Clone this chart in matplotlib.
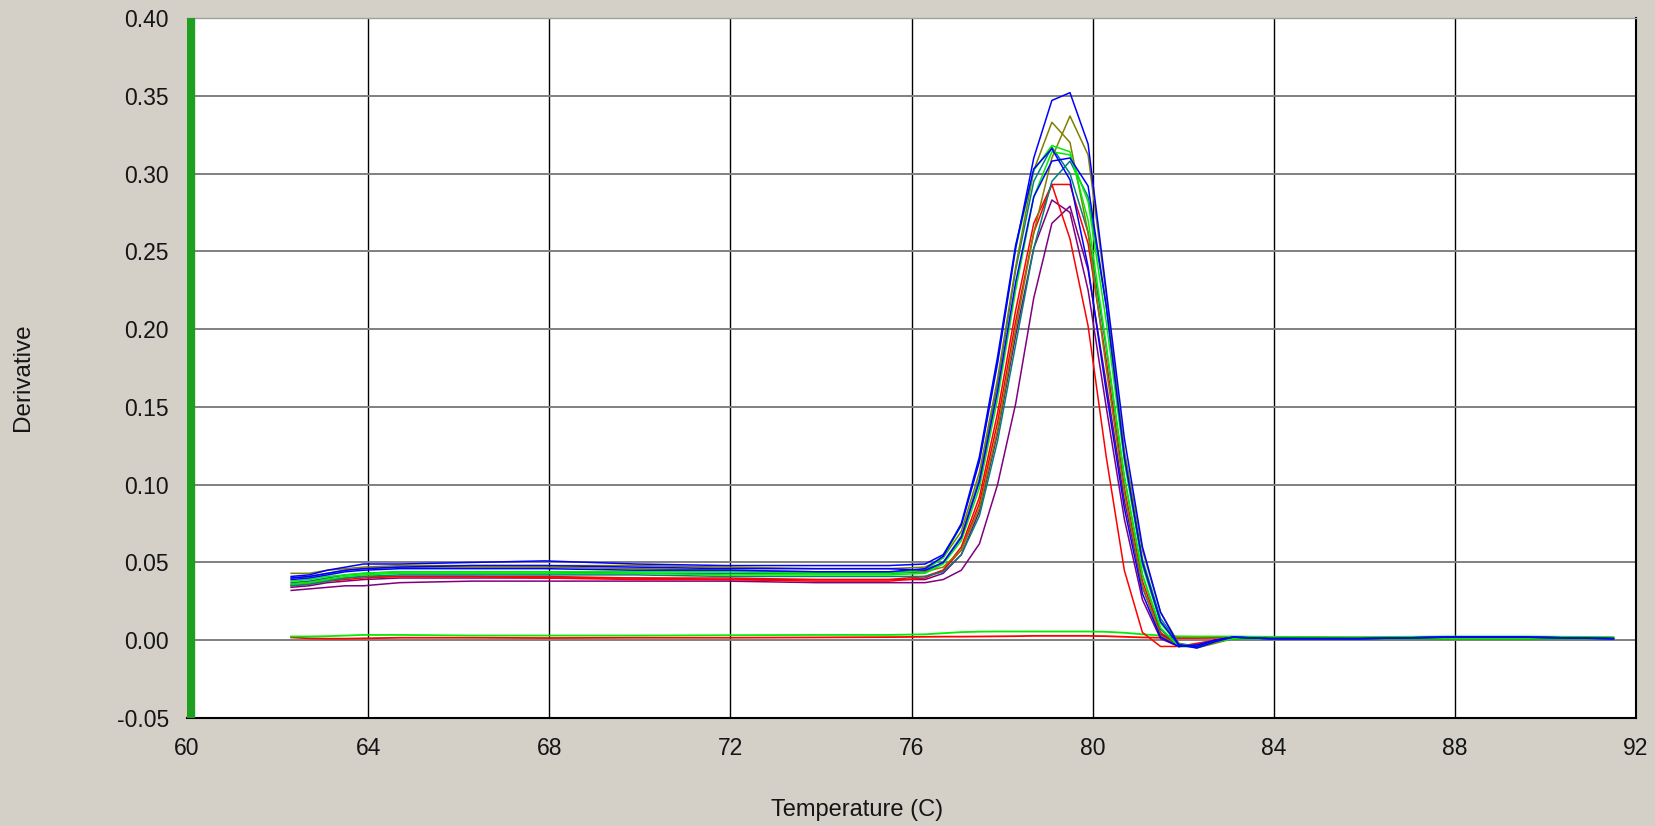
import matplotlib
matplotlib.use("Agg")
import matplotlib.pyplot as plt

# Temperature grid (C) shared by every well
temps = [62.3, 62.7, 63.1, 63.5, 63.9, 64.7, 66.3, 67.9, 69.9, 71.9, 73.9, 75.5,
         76.3, 76.7, 77.1, 77.5, 77.9, 78.3, 78.7, 79.1, 79.5, 79.9, 80.3, 80.7,
         81.1, 81.5, 81.9, 82.3, 82.7, 83.1, 83.9, 85.9, 87.9, 89.5, 91.5]

# Derivative (-dF/dT) for each well
blue_tall = [0.041, 0.042, 0.045, 0.047, 0.049, 0.049, 0.050, 0.051, 0.049, 0.048, 0.048, 0.048,
             0.049, 0.055, 0.074, 0.115, 0.178, 0.252, 0.310, 0.347, 0.352, 0.319, 0.225, 0.130,
             0.060, 0.018, -0.003, -0.004, 0.000, 0.002, 0.001, 0.001, 0.002, 0.002, 0.001]
olive_a = [0.043, 0.043, 0.045, 0.046, 0.047, 0.048, 0.048, 0.048, 0.048, 0.047, 0.046, 0.046,
           0.047, 0.053, 0.070, 0.108, 0.168, 0.240, 0.302, 0.333, 0.320, 0.262, 0.175, 0.095,
           0.035, 0.003, -0.004, -0.003, 0.000, 0.001, 0.001, 0.001, 0.001, 0.001, 0.001]
olive_b = [0.040, 0.041, 0.043, 0.045, 0.046, 0.047, 0.047, 0.047, 0.046, 0.045, 0.044, 0.044,
           0.044, 0.047, 0.058, 0.085, 0.135, 0.200, 0.262, 0.310, 0.337, 0.312, 0.222, 0.122,
           0.058, 0.018, -0.002, -0.005, -0.002, 0.001, 0.001, 0.001, 0.001, 0.001, 0.001]
green_a = [0.038, 0.039, 0.041, 0.042, 0.043, 0.044, 0.044, 0.044, 0.044, 0.044, 0.043, 0.043,
           0.045, 0.053, 0.074, 0.116, 0.180, 0.252, 0.302, 0.318, 0.314, 0.270, 0.190, 0.105,
           0.042, 0.008, -0.004, -0.004, -0.001, 0.001, 0.001, 0.001, 0.002, 0.002, 0.001]
green_b = [0.036, 0.037, 0.039, 0.041, 0.042, 0.043, 0.043, 0.043, 0.043, 0.042, 0.042, 0.042,
           0.043, 0.049, 0.064, 0.098, 0.155, 0.225, 0.285, 0.314, 0.312, 0.282, 0.205, 0.115,
           0.048, 0.011, -0.003, -0.004, -0.001, 0.001, 0.001, 0.001, 0.001, 0.001, 0.001]
teal_a = [0.037, 0.038, 0.040, 0.042, 0.043, 0.044, 0.044, 0.044, 0.043, 0.043, 0.043, 0.043,
          0.044, 0.050, 0.067, 0.104, 0.165, 0.238, 0.295, 0.317, 0.300, 0.262, 0.188, 0.105,
          0.042, 0.007, -0.004, -0.004, -0.001, 0.001, 0.001, 0.001, 0.001, 0.001, 0.001]
teal_b = [0.035, 0.036, 0.038, 0.040, 0.041, 0.042, 0.042, 0.042, 0.042, 0.041, 0.041, 0.041,
          0.041, 0.044, 0.055, 0.080, 0.128, 0.190, 0.252, 0.295, 0.308, 0.285, 0.215, 0.120,
          0.052, 0.014, -0.002, -0.004, -0.001, 0.001, 0.001, 0.001, 0.001, 0.001, 0.001]
blue_b = [0.039, 0.040, 0.042, 0.044, 0.045, 0.046, 0.046, 0.046, 0.045, 0.045, 0.044, 0.044,
          0.046, 0.054, 0.075, 0.118, 0.182, 0.254, 0.303, 0.316, 0.296, 0.240, 0.160, 0.085,
          0.030, 0.002, -0.004, -0.003, 0.000, 0.002, 0.001, 0.001, 0.002, 0.002, 0.001]
blue_c = [0.040, 0.041, 0.043, 0.045, 0.046, 0.047, 0.048, 0.048, 0.047, 0.046, 0.046, 0.046,
          0.045, 0.050, 0.066, 0.102, 0.160, 0.230, 0.285, 0.308, 0.310, 0.292, 0.215, 0.118,
          0.050, 0.012, -0.003, -0.005, -0.001, 0.002, 0.001, 0.001, 0.002, 0.002, 0.001]
red_a = [0.035, 0.036, 0.038, 0.039, 0.040, 0.041, 0.041, 0.041, 0.040, 0.040, 0.039, 0.039,
         0.041, 0.045, 0.058, 0.088, 0.140, 0.205, 0.262, 0.293, 0.293, 0.255, 0.180, 0.098,
         0.038, 0.005, -0.004, -0.003, 0.000, 0.001, 0.001, 0.001, 0.001, 0.001, 0.001]
red_b = [0.036, 0.037, 0.039, 0.040, 0.041, 0.041, 0.041, 0.040, 0.039, 0.039, 0.038, 0.038,
         0.040, 0.045, 0.060, 0.092, 0.146, 0.212, 0.268, 0.293, 0.258, 0.202, 0.118, 0.045,
         0.005, -0.004, -0.004, -0.002, 0.000, 0.001, 0.001, 0.001, 0.001, 0.001, 0.001]
purple_a = [0.032, 0.033, 0.034, 0.035, 0.035, 0.037, 0.038, 0.038, 0.038, 0.038, 0.037, 0.037,
            0.037, 0.039, 0.045, 0.062, 0.100, 0.152, 0.220, 0.268, 0.279, 0.238, 0.165, 0.090,
            0.034, 0.004, -0.004, -0.003, 0.000, 0.001, 0.001, 0.001, 0.002, 0.002, 0.001]
purple_b = [0.034, 0.035, 0.037, 0.038, 0.039, 0.040, 0.040, 0.040, 0.040, 0.039, 0.039, 0.039,
            0.039, 0.043, 0.055, 0.083, 0.133, 0.196, 0.252, 0.283, 0.275, 0.225, 0.150, 0.078,
            0.026, 0.001, -0.004, -0.003, 0.000, 0.001, 0.001, 0.001, 0.001, 0.001, 0.001]
# no-template wells
green_ntc = [0.0024, 0.0024, 0.0026, 0.0030, 0.0034, 0.0034, 0.0030, 0.0030, 0.0030, 0.0032, 0.0034, 0.0034,
             0.0038, 0.0045, 0.0052, 0.0055, 0.0056, 0.0056, 0.0056, 0.0056, 0.0056, 0.0056, 0.0054, 0.0048,
             0.0038, 0.0030, 0.0025, 0.0024, 0.0024, 0.0024, 0.0022, 0.0020, 0.0024, 0.0024, 0.0020]
red_ntc = [0.0018, 0.0012, 0.0010, 0.0010, 0.0012, 0.0016, 0.0016, 0.0014, 0.0016, 0.0016, 0.0018, 0.0020,
           0.0022, 0.0023, 0.0023, 0.0024, 0.0025, 0.0026, 0.0028, 0.0028, 0.0028, 0.0028, 0.0026, 0.0022,
           0.0018, 0.0016, 0.0014, 0.0014, 0.0015, 0.0016, 0.0016, 0.0016, 0.0018, 0.0018, 0.0016]

curves = [
    (purple_a, "#800080"), (purple_b, "#800080"), (red_a, "#ff0000"), (red_b, "#ff0000"),
    (teal_b, "#008080"), (teal_a, "#008080"), (olive_b, "#808000"), (olive_a, "#808000"),
    (green_b, "#00ee00"), (green_a, "#00ee00"), (blue_c, "#0000ff"), (blue_b, "#0000ff"),
    (blue_tall, "#0000ff"),
]

x_ticks = [60, 64, 68, 72, 76, 80, 84, 88, 92]
y_ticks = [-0.05, 0.00, 0.05, 0.10, 0.15, 0.20, 0.25, 0.30, 0.35, 0.40]

bg = "#d4d0c8"
plt.rcParams["font.family"] = ["Liberation Sans", "DejaVu Sans"]

fig = plt.figure(figsize=(16.56, 8.26), dpi=100, facecolor=bg)
ax = fig.add_axes([187 / 1656, 1 - 718 / 826, (1636 - 187) / 1656, (718 - 18) / 826])
ax.set_facecolor("white")

for x in x_ticks[1:-1]:
    ax.axvline(x, color="black", lw=1.0, zorder=1)
for y in y_ticks[1:-1]:
    ax.axhline(y, color="#808080", lw=1.4, zorder=1)

ax.plot(temps, red_ntc, color="#ff0000", lw=1.3, zorder=2)
ax.plot(temps, green_ntc, color="#00ee00", lw=1.3, zorder=2)
for vals, col in curves:
    ax.plot(temps, vals, color=col, lw=1.1, zorder=3)

# marker line at the left edge
ax.axvline(60.09, color="#1f9f1f", lw=6, zorder=5)

ax.set_xlim(60, 92)
ax.set_ylim(-0.05, 0.40)
ax.set_xticks(x_ticks)
ax.set_yticks(y_ticks)
ax.set_yticklabels([f"{v:.2f}" for v in y_ticks])
ax.tick_params(length=0, labelsize=16.5, colors="#151515")
ax.tick_params(axis="x", pad=14)
ax.tick_params(axis="y", pad=13)

for side in ["bottom", "right"]:
    ax.spines[side].set_color("black")
    ax.spines[side].set_linewidth(1.5)
ax.spines["top"].set_color("#a0a0a0")
ax.spines["top"].set_linewidth(1.0)
ax.spines["left"].set_visible(False)

fig.text(857 / 1656, 1 - 810 / 826, "Temperature (C)", fontsize=17, color="#151515",
         ha="center", va="center")
fig.text(23 / 1656, 1 - 377 / 826, "Derivative", fontsize=17.5, color="#151515",
         rotation=90, ha="center", va="center")

fig.savefig("out.png", dpi=100, facecolor=bg)
